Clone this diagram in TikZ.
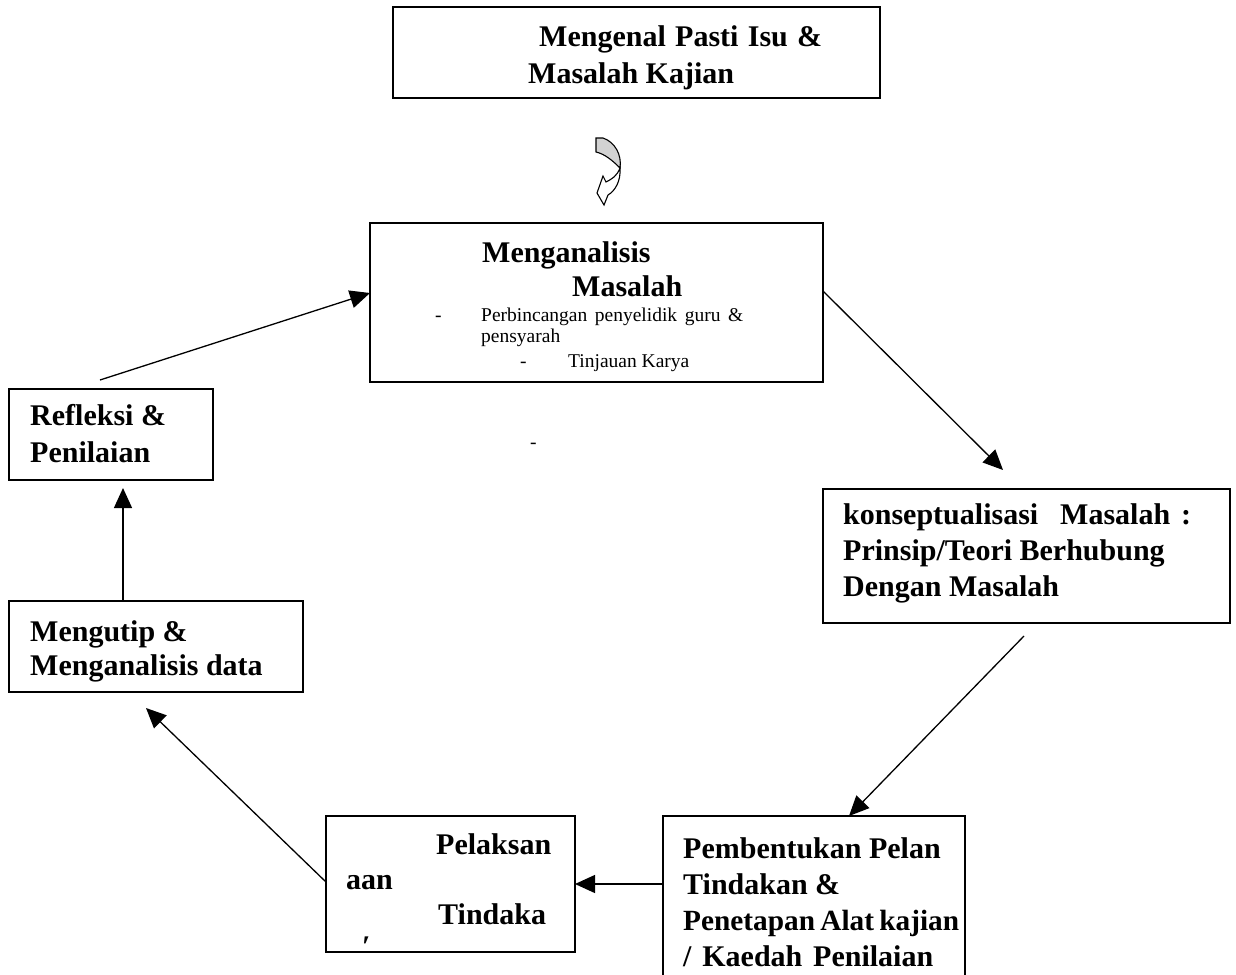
\documentclass[tikz,border=0pt]{standalone}
\usepackage{fontspec}
\setmainfont{Liberation Serif}
\usetikzlibrary{arrows.meta,calc}
\tikzset{
  box/.style={draw, line width=1.6pt, rectangle, inner sep=0pt, outer sep=0pt, anchor=north west},
  hd/.style={anchor=base west, inner sep=0pt, font=\bfseries\fontsize{30}{36}\selectfont},
  sm/.style={anchor=base west, inner sep=0pt, font=\fontsize{19.5}{22}\selectfont},
  arr/.style={line width=1.3pt, -{Triangle[length=20pt,width=18pt]}},
}
\begin{document}
\begin{tikzpicture}[x=1pt,y=-1pt]
\useasboundingbox (0,0) rectangle (1236,974);
% boxes
\node[box, minimum width=487pt, minimum height=91pt] (top) at (393,7) {};
\node[box, minimum width=453pt, minimum height=159pt] (analisis) at (370,223) {};
\node[box, minimum width=407pt, minimum height=134pt] (konsep) at (823,489) {};
\node[box, minimum width=302pt, minimum height=170pt] (pemb) at (663,816) {};
\node[box, minimum width=249pt, minimum height=136pt] (pelak) at (326,816) {};
\node[box, minimum width=294pt, minimum height=91pt] (kutip) at (9,601) {};
\node[box, minimum width=204pt, minimum height=91pt] (refl) at (9,389) {};
% texts
\node[hd] (t1) at (539,47) {\makebox[283pt][s]{Mengenal Pasti Isu \&}};
\node[hd] (t2) at (528,83) {Masalah Kajian};
\node[hd] (a1) at (482,262) {Menganalisis};
\node[hd] (a2) at (572,296) {Masalah};
\node[sm] (a3) at (435,321) {-};
\node[sm] (a4) at (481,321) {\makebox[262pt][s]{Perbincangan penyelidik guru \&}};
\node[sm] (a5) at (481,342) {pensyarah};
\node[sm] (a6) at (520,367) {-};
\node[sm] (a7) at (568,367) {Tinjauan Karya};
\node[sm] (dash) at (530,448) {-};
\node[hd] (k1) at (843,524) {\makebox[348pt][s]{konseptualisasi\ \ Masalah :}};
\node[hd] (k2) at (843,560) {Prinsip/Teori Berhubung};
\node[hd] (k3) at (843,596) {Dengan Masalah};
\node[hd] (p1) at (683,858) {Pembentukan Pelan};
\node[hd] (p2) at (683,894) {Tindakan \&};
\node[hd, font=\bfseries\fontsize{29.3}{36}\selectfont] (p3) at (683,930) {Penetapan\hspace{-2pt} Alat\hspace{-2pt} kajian};
\node[hd] (p4) at (683,966) {\makebox[250pt][s]{/ Kaedah Penilaian}};
\node[hd] (l1) at (436,854) {Pelaksan};
\node[hd] (l2) at (346,889) {aan};
\node[hd] (l3) at (438,924) {Tindaka};
\node[hd] (l4) at (362,956) {′};
\node[hd] (r1) at (30,425) {Refleksi \&};
\node[hd] (r2) at (30,462) {Penilaian};
\node[hd] (m1) at (30,641) {Mengutip \&};
\node[hd] (m2) at (30,675) {Menganalisis data};
% connectors
\draw[arr] ($(analisis.north east)+(0,68)$) -- ($(konsep.north west)+(180,-19)$);
\draw[arr] ($(konsep.south west)+(201,13)$) -- ($(pemb.north west)+(186,0)$);
\draw[arr] ($(pemb.north west)+(0,68)$) -- ($(pelak.north east)+(0,68)$);
\draw[arr] ($(pelak.north west)+(0,66)$) -- ($(kutip.south west)+(137,16)$);
\draw[arr] ($(kutip.north west)+(114,0)$) -- ($(refl.south west)+(114,8)$);
\draw[arr] ($(refl.north west)+(91,-9)$) -- ($(analisis.north west)+(0,70)$);
% curved arrow
\draw[line width=1.1pt, fill=gray!35] (596,138) -- (603,138) .. controls (615,142) and (622,155) .. (620,168)
  .. controls (613,161) and (605,154) .. (596,152) -- cycle;
\draw[line width=1.1pt, fill=white] (620,168) .. controls (617,176) and (612,179) .. (606,182)
  -- (603,176) -- (597,193) -- (604,205) -- (608,195) .. controls (615,191) and (621,181) .. (620,168) -- cycle;
\end{tikzpicture}
\end{document}
